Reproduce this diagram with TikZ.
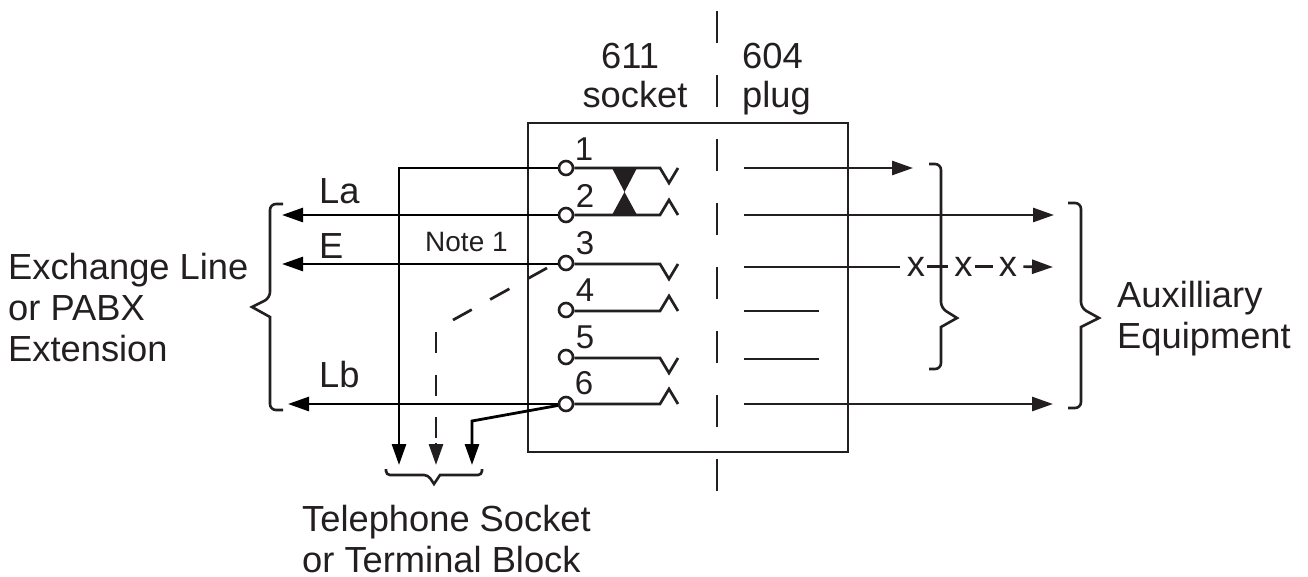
\documentclass[tikz,border=0pt]{standalone}
\usepackage{fontspec}
\setmainfont{Liberation Sans}
\usetikzlibrary{arrows.meta}
\definecolor{inkline}{RGB}{35,31,32}
\tikzset{
	wire/.style={line width=2.8pt,color=black},
	thinwire/.style={line width=2.7pt,color=inkline},
	arrowwire/.style={thinwire,-{Triangle[length=21pt,width=14pt]}},
	downwire/.style={wire,-{Triangle[length=21pt,width=14pt]}},
	xlink/.style={thinwire,shorten <=2pt,shorten >=6pt},
	term/.style={draw=inkline,line width=2.6pt,circle,fill=white,inner sep=0pt,minimum size=14pt},
	brace/.style={line width=2.6pt,color=inkline,rounded corners=6pt},
	label/.style={text=inkline,font=\fontsize{36.3}{41}\selectfont,align=left,inner sep=0pt},
	pinlabel/.style={text=inkline,font=\fontsize{33}{40}\selectfont,inner sep=0pt}
}
\begin{document}
\begin{tikzpicture}[x=1pt,y=-1pt]
	\useasboundingbox (0,0) rectangle (1308,576);
	\draw [line width=2.6pt,color=inkline] (528,123) rectangle (848,452);
	\draw [thinwire,dash pattern=on 32pt off 32pt] (717,11) -- (717,491);
	\coordinate (s1) at (399,465);
	\coordinate (s2) at (436,465);
	\coordinate (s3) at (472,465);
	\coordinate (b2) at (436,443);
	\coordinate (b3) at (472,421);
	\coordinate (l2) at (282,215);
	\coordinate (l3) at (282,264);
	\coordinate (l6) at (288,404);
	\node [term] (t1) at (566,168) {};
	\node [term] (t2) at (566,215) {};
	\node [term] (t3) at (566,263) {};
	\node [term] (t4) at (566,310) {};
	\node [term] (t5) at (566,357) {};
	\node [term] (t6) at (566,404) {};
	\draw [downwire] (t1) -| (s1);
	\draw [downwire] (t6) -- (b3) -- (s3);
	\draw [arrowwire,color=black] (t2) -- (l2);
	\draw [arrowwire,color=black] (t3.west |- l3) -- (l3);
	\draw [arrowwire,color=black] (t6) -- (l6);
	\node [pinlabel,anchor=base] (n1) at (584,160) {1};
	\node [pinlabel,anchor=base] (n2) at (585,207) {2};
	\node [pinlabel,anchor=base] (n3) at (585,254) {3};
	\node [pinlabel,anchor=base] (n4) at (585,301) {4};
	\node [pinlabel,anchor=base] (n5) at (585,348) {5};
	\node [pinlabel,anchor=base] (n6) at (584,394) {6};
	\coordinate (c1) at (660,168);
	\coordinate (c2) at (660,215);
	\coordinate (c3) at (660,264);
	\coordinate (c4) at (660,311);
	\coordinate (c5) at (660,358);
	\coordinate (c6) at (660,404);
	\draw [thinwire] (t1) -- (c1) -- ++(9,15) -- ++(9,-15);
	\draw [thinwire] (t2) -- (c2) -- ++(9,-15) -- ++(9,15);
	\draw [thinwire] (t3.east |- c3) -- (c3) -- ++(9,15) -- ++(9,-15);
	\draw [thinwire] (t4.east |- c4) -- (c4) -- ++(9,-15) -- ++(9,15);
	\draw [thinwire] (t5.east |- c5) -- (c5) -- ++(9,15) -- ++(9,-15);
	\draw [thinwire] (t6) -- (c6) -- ++(9,-15) -- ++(9,15);
	\fill [inkline] (612,168) -- (637,168) -- (624.5,192) -- (637,215) -- (612,215) -- (624.5,192) -- cycle;
	\coordinate (d0) at (547,268);
	\coordinate (d1) at (453,320);
	\coordinate (d2) at (436,332);
	\draw [thinwire,dash pattern=on 22pt off 21pt] (d0) -- (d1);
	\draw [thinwire,dash pattern=on 21pt off 21.5pt] (d2) -- (b2);
	\draw [downwire,color=inkline] (b2) -- (s2);
	\coordinate (p1) at (744,168);
	\coordinate (p2) at (744,215);
	\coordinate (p3) at (744,267);
	\coordinate (p4) at (744,311);
	\coordinate (p5) at (744,359);
	\coordinate (p6) at (744,404);
	\coordinate (e1) at (913,168);
	\coordinate (e2) at (1054,215);
	\coordinate (e3) at (900,267);
	\coordinate (e4) at (819,311);
	\coordinate (e5) at (819,359);
	\coordinate (e6) at (1053,404);
	\coordinate (e7) at (1053,267);
	\draw [arrowwire] (p1) -- (e1);
	\draw [arrowwire] (p2) -- (e2);
	\draw [thinwire] (p3) -- (e3);
	\draw [thinwire] (p4) -- (e4);
	\draw [thinwire] (p5) -- (e5);
	\draw [arrowwire] (p6) -- (e6);
	\node [label,anchor=base] (x1) at (916,276) {x};
	\node [label,anchor=base] (x2) at (963.5,276) {x};
	\node [label,anchor=base] (x3) at (1008,276) {x};
	\draw [xlink] (x1) -- (x2);
	\draw [xlink] (x2) -- (x3);
	\draw [arrowwire,shorten <=6pt] (x3) -- (e7);
	\draw [brace] (283,204) -| (270,298) [sharp corners] -- (252,307) -- (270,317) [rounded corners=6pt] |- (283,410);
	\draw [brace] (1068,203) -| (1081,308) [sharp corners] -- (1099,318) -- (1081,327) [rounded corners=6pt] |- (1068,408);
	\draw [brace] (929,164) -| (941,308) [sharp corners] -- (957,318) -- (941,327) [rounded corners=6pt] |- (929,369);
	\draw [brace,rounded corners=4pt] (386,469) |- (428,475) [sharp corners] -- (434,484) -- (440,475) [rounded corners=4pt] -| (482,469);
	\node [label,anchor=base] (n611) at (630,68) {611};
	\node [label,anchor=base] (nsocket) at (635,107) {socket};
	\node [label,anchor=base west] (n604) at (742,68) {604};
	\node [label,anchor=base west] (nplug) at (742,107) {plug};
	\node [label,anchor=base west] (nla) at (319,203) {La};
	\node [label,anchor=base west] (ne) at (319,258) {E};
	\node [label,anchor=base west] (nlb) at (319,387) {Lb};
	\node [pinlabel,anchor=base west,font=\fontsize{28}{32}\selectfont] (nnote) at (425,251) {Note 1};
	\node [label,anchor=base west] (nexch) at (8,361) {Exchange Line\\or PABX\\Extension};
	\node [label,anchor=base west] (naux) at (1117,348) {Auxilliary\\Equipment};
	\node [label,anchor=base west,text depth=0pt] (ntel) at (302,572.5) {Telephone Socket\\or Terminal Block};
\end{tikzpicture}
\end{document}
